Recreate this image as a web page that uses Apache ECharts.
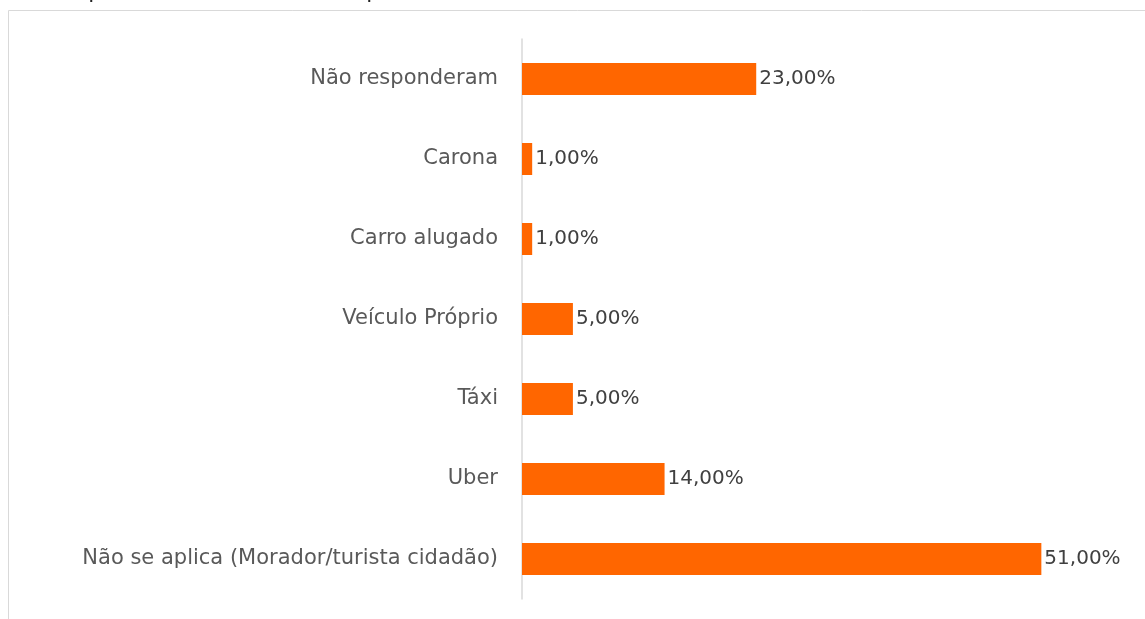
<!DOCTYPE html>
<html>
<head>
<meta charset="utf-8">
<script src="https://cdn.jsdelivr.net/npm/echarts@6/dist/echarts.min.js"></script>
<style>
    html, body { margin: 0; padding: 0; background: #fff; }
    #main { width: 1145px; height: 619px; }
</style>
</head>
<body>
<div id="main"></div>
<script>
const categories = [
    'Não responderam',
    'Carona',
    'Carro alugado',
    'Veículo Próprio',
    'Táxi',
    'Uber',
    'Não se aplica (Morador/turista cidadão)'
];
const percents = [23, 1, 1, 5, 5, 14, 51];
const titleText = 'Transporte utilizado até o aeroporto';

document.addEventListener('DOMContentLoaded', function () {
    drawChart();
});

function drawChart() {
    let myChart = echarts.init(document.getElementById('main'));

    let option = {
        animation: false,
        textStyle: { fontFamily: 'DejaVu Sans' },
        graphic: [
            {
                type: 'rect',
                shape: { x: 8.5, y: 10.5, width: 1160, height: 640 },
                style: { fill: 'none', stroke: '#d9d9d9', lineWidth: 1 }
            },
            {
                type: 'text',
                left: 30,
                top: -19,
                style: { text: titleText, fontSize: 22, fill: '#222', fontFamily: 'DejaVu Sans' }
            }
        ],
        grid: {
            left: 522,
            right: 12,
            top: 39,
            height: 560,
            containLabel: false
        },
        xAxis: {
            type: 'value',
            min: 0,
            max: 60,
            show: false
        },
        yAxis: {
            type: 'category',
            data: categories,
            inverse: true,
            axisLine: { lineStyle: { color: '#d9d9d9', width: 1.5 } },
            axisTick: { show: false },
            axisLabel: {
                margin: 24,
                color: '#595959',
                fontSize: 21,
                fontFamily: 'DejaVu Sans'
            }
        },
        series: [
            {
                type: 'bar',
                data: percents,
                barWidth: 32,
                itemStyle: { color: '#ff6600' },
                label: {
                    show: true,
                    position: 'right',
                    distance: 3,
                    color: '#404040',
                    fontSize: 20,
                    fontFamily: 'DejaVu Sans',
                    formatter: function (p) {
                        return p.value.toFixed(2).replace('.', ',') + '%';
                    }
                }
            }
        ]
    };

    myChart.setOption(option);
}
</script>
</body>
</html>
